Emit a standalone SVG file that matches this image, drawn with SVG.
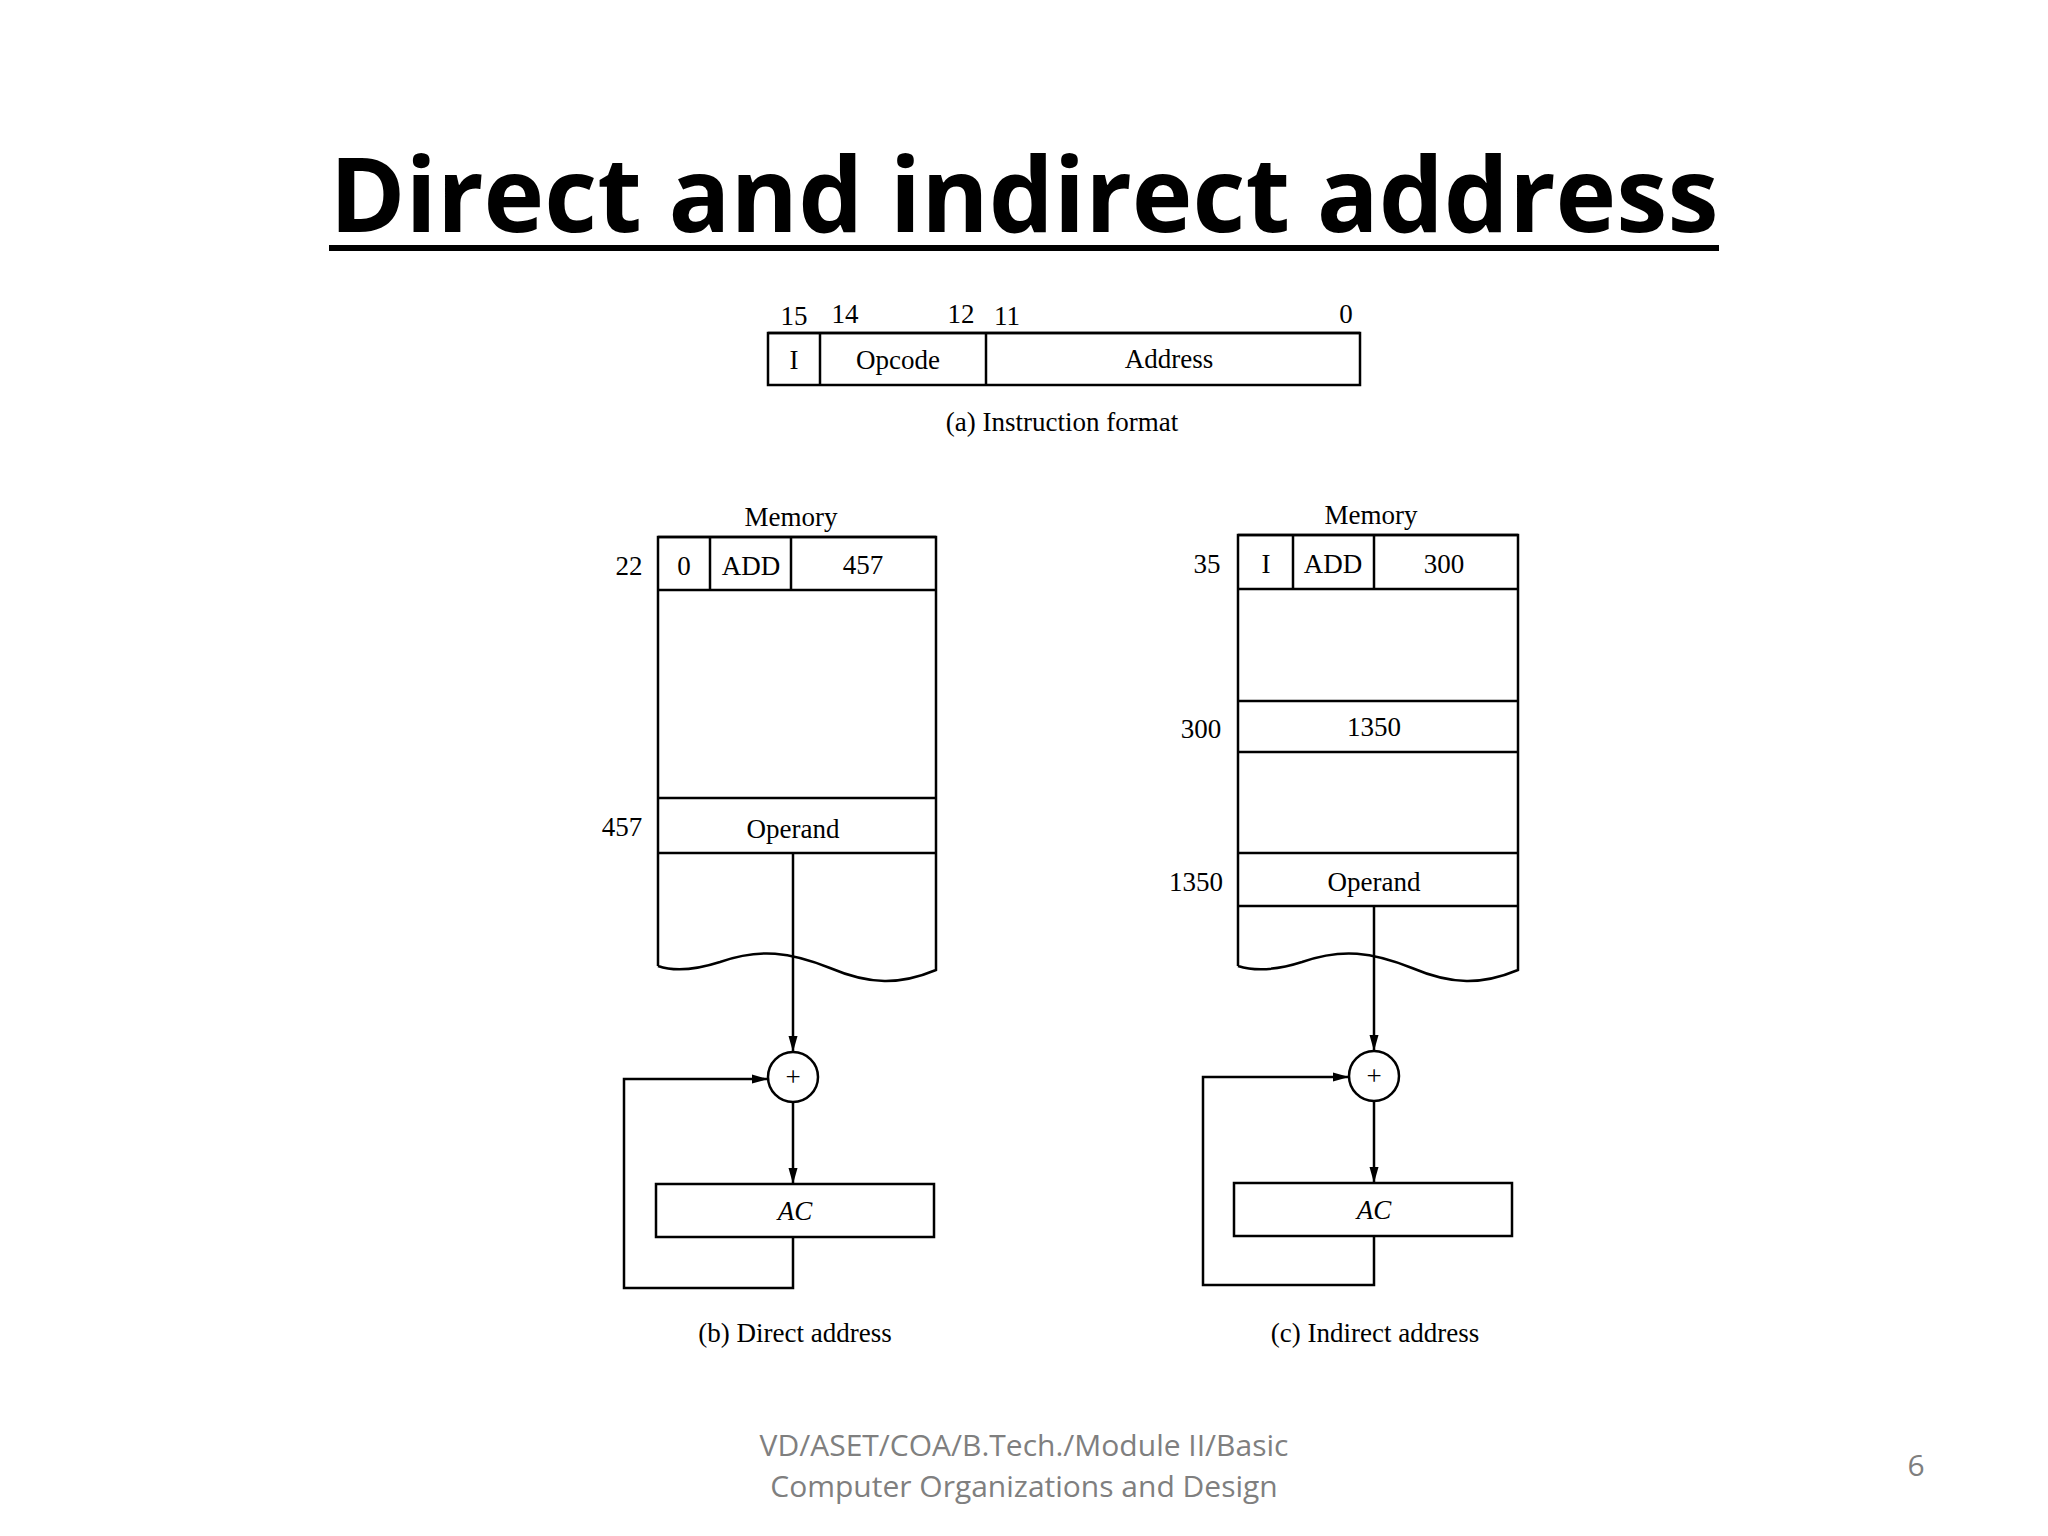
<svg xmlns="http://www.w3.org/2000/svg" width="2048" height="1536" viewBox="0 0 2048 1536">
<defs>
<marker id="ah" viewBox="0 0 16 10" refX="16" refY="5" markerWidth="16" markerHeight="10" markerUnits="userSpaceOnUse" orient="auto"><path d="M0,0.5 L16,5 L0,9.5 z" fill="#000"/></marker>
<style>
.s{fill:none;stroke:#000;stroke-width:2.5}
.t{font-family:"Liberation Serif",serif;font-size:27px;fill:#000;text-anchor:middle}
.f{font-family:"Open Sans","Liberation Sans",sans-serif;font-size:30px;fill:#7f7f7f;text-anchor:middle}
</style>
</defs>
<rect width="2048" height="1536" fill="#fff"/>
<text x="1024" y="232" font-family="'Open Sans','Liberation Sans',sans-serif" font-weight="bold" font-size="104" text-anchor="middle" textLength="1389" lengthAdjust="spacingAndGlyphs">Direct and indirect address</text>
<rect x="329" y="245" width="1390" height="6" fill="#000"/>

<g id="instr">
<rect class="s" x="768" y="333" width="592" height="52"/>
<line class="s" x1="768" y1="333" x2="1360" y2="333" stroke-width="4"/>
<line class="s" x1="820" y1="333" x2="820" y2="385"/>
<line class="s" x1="986" y1="333" x2="986" y2="385"/>
<text class="t" x="794" y="325" font-size="24">15</text>
<text class="t" x="845" y="323" font-size="24">14</text>
<text class="t" x="961" y="323" font-size="24">12</text>
<text class="t" x="1007" y="325" font-size="24">11</text>
<text class="t" x="1346" y="323" font-size="24">0</text>
<text class="t" x="794" y="369">I</text>
<text class="t" x="898" y="369">Opcode</text>
<text class="t" x="1169" y="368">Address</text>
<text class="t" x="1062" y="431" font-size="25">(a) Instruction format</text>
</g>

<g id="memB">
<text class="t" x="791" y="526">Memory</text>
<path class="s" d="M658,966 L658,537 L936,537 L936,970 C900,985 870,985 830,968 C790,952 760,948 720,962 C695,970 675,972 658,966"/>
<line class="s" x1="658" y1="537" x2="936" y2="537" stroke-width="4"/>
<line class="s" x1="658" y1="590" x2="936" y2="590" stroke-width="3.5"/>
<line class="s" x1="710" y1="537" x2="710" y2="590"/>
<line class="s" x1="791" y1="537" x2="791" y2="590"/>
<line class="s" x1="658" y1="798" x2="936" y2="798" stroke-width="3.5"/>
<line class="s" x1="658" y1="853" x2="936" y2="853" stroke-width="3.5"/>
<text class="t" x="629" y="575">22</text>
<text class="t" x="684" y="575">0</text>
<text class="t" x="751" y="575">ADD</text>
<text class="t" x="863" y="574">457</text>
<text class="t" x="622" y="836">457</text>
<text class="t" x="793" y="838">Operand</text>
</g>
<g id="addB"><circle class="s" cx="793" cy="1077" r="25"/><text class="t" x="793" y="1086" font-size="26">+</text></g>
<g id="acB"><rect class="s" x="656" y="1184" width="278" height="53"/><text class="t" x="795" y="1220" font-style="italic">AC</text></g>
<text class="t" x="795" y="1342" font-size="25">(b) Direct address</text>

<g id="memC">
<text class="t" x="1371" y="524">Memory</text>
<path class="s" d="M1238,966 L1238,535 L1518,535 L1518,970 C1482,985 1452,985 1412,968 C1372,952 1342,948 1302,962 C1277,970 1257,972 1238,966"/>
<line class="s" x1="1238" y1="535" x2="1518" y2="535" stroke-width="4"/>
<line class="s" x1="1238" y1="589" x2="1518" y2="589" stroke-width="3.5"/>
<line class="s" x1="1293" y1="535" x2="1293" y2="589"/>
<line class="s" x1="1374" y1="535" x2="1374" y2="589"/>
<line class="s" x1="1238" y1="701" x2="1518" y2="701" stroke-width="3.5"/>
<line class="s" x1="1238" y1="752" x2="1518" y2="752" stroke-width="3.5"/>
<line class="s" x1="1238" y1="853" x2="1518" y2="853" stroke-width="3.5"/>
<line class="s" x1="1238" y1="906" x2="1518" y2="906" stroke-width="3.5"/>
<text class="t" x="1207" y="573">35</text>
<text class="t" x="1266" y="573">I</text>
<text class="t" x="1333" y="573">ADD</text>
<text class="t" x="1444" y="573">300</text>
<text class="t" x="1201" y="738">300</text>
<text class="t" x="1374" y="736">1350</text>
<text class="t" x="1196" y="891">1350</text>
<text class="t" x="1374" y="891">Operand</text>
</g>
<g id="addC"><circle class="s" cx="1374" cy="1076" r="25"/><text class="t" x="1374" y="1085" font-size="26">+</text></g>
<g id="acC"><rect class="s" x="1234" y="1183" width="278" height="53"/><text class="t" x="1374" y="1219" font-style="italic">AC</text></g>
<text class="t" x="1375" y="1342" font-size="25">(c) Indirect address</text>

<g id="connectors">
<path class="s" d="M793,853 L793,1052" marker-end="url(#ah)"/>
<path class="s" d="M793,1102 L793,1184" marker-end="url(#ah)"/>
<path class="s" d="M793,1237 L793,1288 L624,1288 L624,1079 L768,1079" marker-end="url(#ah)"/>
<path class="s" d="M1374,906 L1374,1051" marker-end="url(#ah)"/>
<path class="s" d="M1374,1101 L1374,1183" marker-end="url(#ah)"/>
<path class="s" d="M1374,1236 L1374,1285 L1203,1285 L1203,1077 L1349,1077" marker-end="url(#ah)"/>
</g>

<text class="f" x="1024" y="1456">VD/ASET/COA/B.Tech./Module II/Basic</text>
<text class="f" x="1024" y="1497" font-size="29">Computer Organizations and Design</text>
<text class="f" x="1916" y="1476">6</text>
</svg>
